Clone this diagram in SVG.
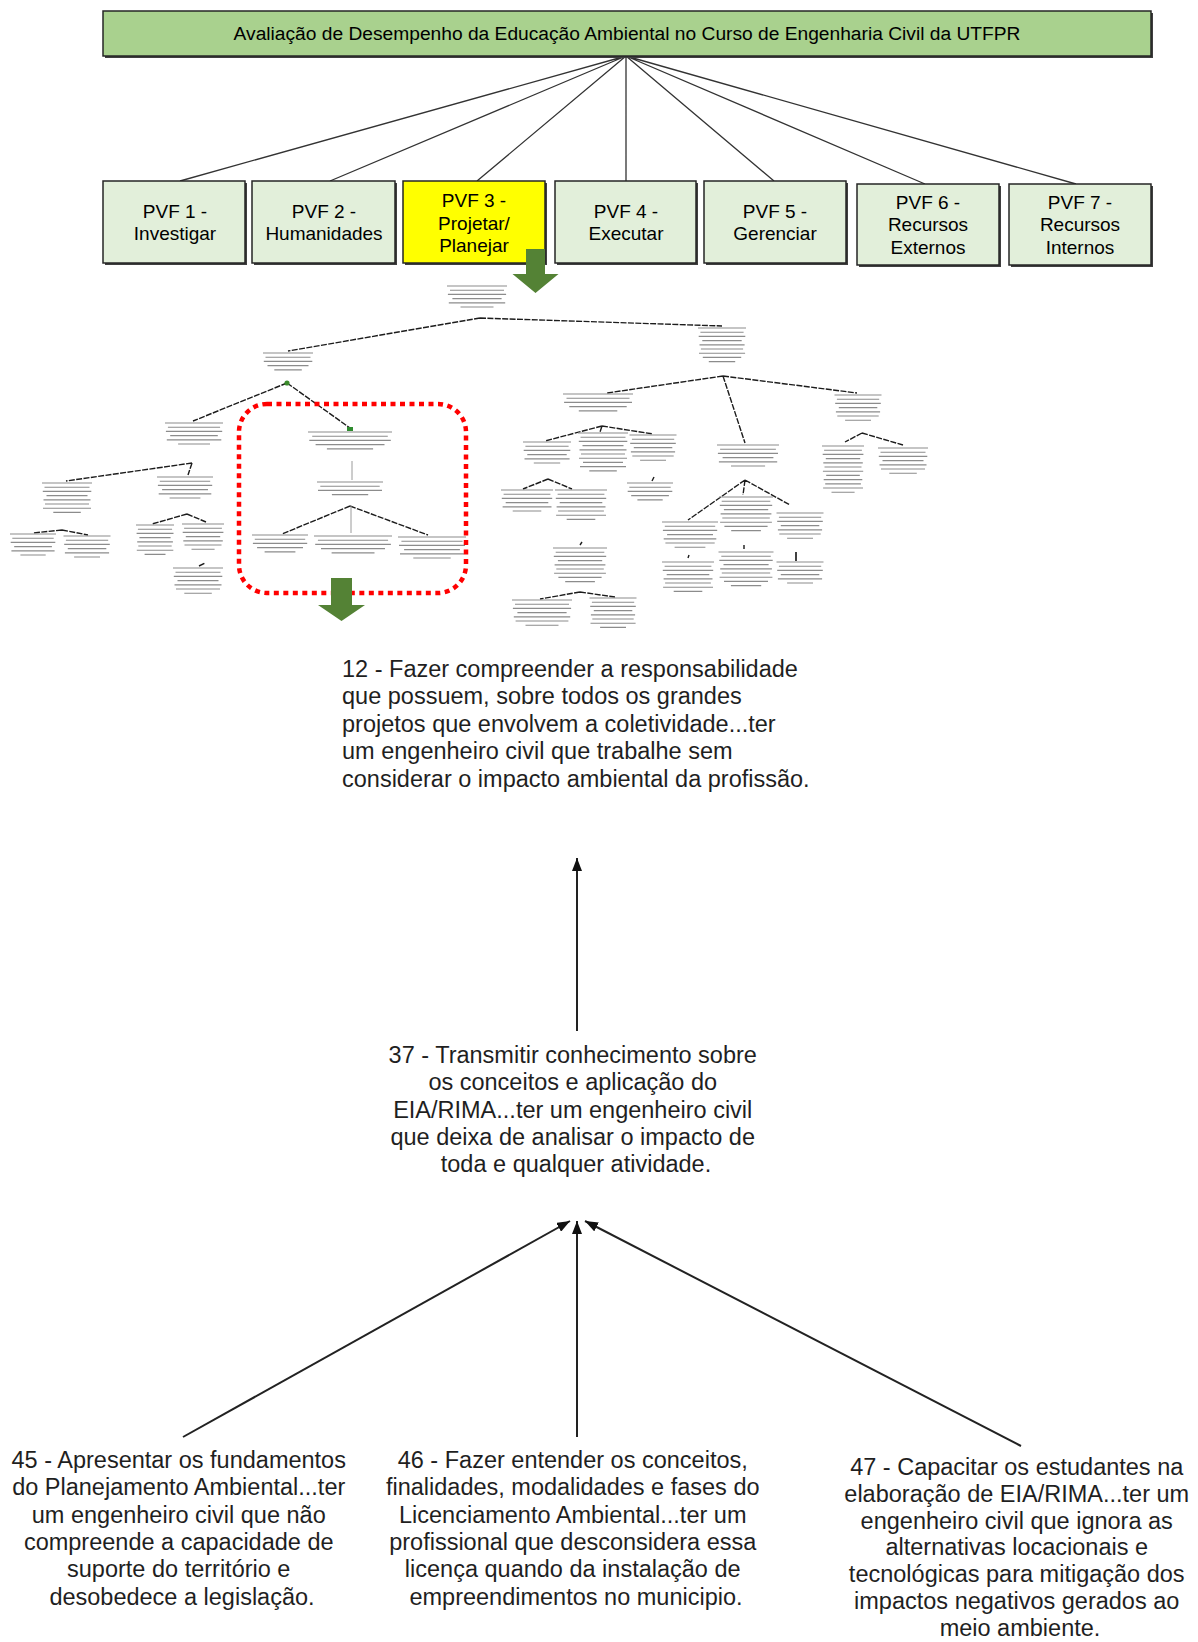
<svg xmlns="http://www.w3.org/2000/svg" width="1198" height="1642" viewBox="0 0 1198 1642">
  <defs>
    <style>
      .t{font-family:"Liberation Sans",Arial,sans-serif;fill:#000}
      .hd{font-size:19.2px;text-anchor:middle}
      .pvf{font-size:19px;text-anchor:middle}
      .big{font-size:23.5px;fill:#1f1f1f}
      .mid{text-anchor:middle}
      .sh{fill:#3f3f3f}
      .box{stroke:#262626;stroke-width:1.5}
      .fan{stroke:#333;stroke-width:1.3;fill:none}
      .tl{stroke:#1c1c1c;stroke-width:1.4;stroke-dasharray:6 1.4;fill:none}
      .tf{stroke:#9a9a9a;stroke-width:1;fill:none}
      .gk{stroke:#8c8c8c;stroke-width:1.15;fill:none}
      .con{stroke:#222;stroke-width:2;fill:none}
      .garrow{fill:#548235}
    </style>
    <marker id="ah" viewBox="0 0 13 10" refX="13" refY="5" markerWidth="13" markerHeight="10" markerUnits="userSpaceOnUse" orient="auto">
      <path d="M0 0L13 5L0 10z" fill="#111"/>
    </marker>
  </defs>
  <rect width="1198" height="1642" fill="#fff"/>

  <!-- connectors from the title to the seven PVF boxes -->
  <g id="connectors-top">
    <path class="fan" d="M626 56L180 181M626 56L330 181M626 56L477 181M626 56L626 181M626 56L774 181M626 56L925 184M626 56L1076 184"/>
  </g>

  <!-- title -->
  <g id="title">
    <rect class="sh" x="105" y="13" width="1048" height="45"/>
    <rect class="box" x="103" y="11" width="1048" height="45" fill="#a9d18e"/>
    <text class="t hd" x="627" y="40">Avaliação de Desempenho da Educação Ambiental no Curso de Engenharia Civil da UTFPR</text>
  </g>

  <!-- PVF boxes -->
  <g id="pvf1">
    <rect class="sh" x="105" y="183" width="142" height="82"/>
    <rect class="box" x="103" y="181" width="142" height="82" fill="#e2efda"/>
    <text class="t pvf" x="175" y="218">PVF 1 -</text>
    <text class="t pvf" x="175" y="240">Investigar</text>
  </g>
  <g id="pvf2">
    <rect class="sh" x="254" y="183" width="143" height="82"/>
    <rect class="box" x="252" y="181" width="143" height="82" fill="#e2efda"/>
    <text class="t pvf" x="324" y="218">PVF 2 -</text>
    <text class="t pvf" x="324" y="240">Humanidades</text>
  </g>
  <g id="pvf3">
    <rect class="sh" x="405" y="183" width="142" height="82"/>
    <rect class="box" x="403" y="181" width="142" height="82" fill="#ffff00"/>
    <text class="t pvf" x="474" y="207">PVF 3 -</text>
    <text class="t pvf" x="474" y="230">Projetar/</text>
    <text class="t pvf" x="474" y="252">Planejar</text>
  </g>
  <g id="pvf4">
    <rect class="sh" x="557" y="183" width="141" height="82"/>
    <rect class="box" x="555" y="181" width="141" height="82" fill="#e2efda"/>
    <text class="t pvf" x="626" y="218">PVF 4 -</text>
    <text class="t pvf" x="626" y="240">Executar</text>
  </g>
  <g id="pvf5">
    <rect class="sh" x="706" y="183" width="142" height="82"/>
    <rect class="box" x="704" y="181" width="142" height="82" fill="#e2efda"/>
    <text class="t pvf" x="775" y="218">PVF 5 -</text>
    <text class="t pvf" x="775" y="240">Gerenciar</text>
  </g>
  <g id="pvf6">
    <rect class="sh" x="859" y="186" width="142" height="81"/>
    <rect class="box" x="857" y="184" width="142" height="81" fill="#e2efda"/>
    <text class="t pvf" x="928" y="209">PVF 6 -</text>
    <text class="t pvf" x="928" y="231">Recursos</text>
    <text class="t pvf" x="928" y="254">Externos</text>
  </g>
  <g id="pvf7">
    <rect class="sh" x="1011" y="186" width="142" height="81"/>
    <rect class="box" x="1009" y="184" width="142" height="81" fill="#e2efda"/>
    <text class="t pvf" x="1080" y="209">PVF 7 -</text>
    <text class="t pvf" x="1080" y="231">Recursos</text>
    <text class="t pvf" x="1080" y="254">Internos</text>
  </g>

  <!-- green pointer below PVF 3 -->
  <g id="pointer-pvf3">
    <polygon class="garrow" points="526,249 545,249 545,274 558.5,274 535.5,293 512.5,274 526,274"/>
  </g>

  <!-- reduced-scale objectives tree -->
  <g id="mini-tree">
    <g id="mini-connectors">
      <path class="tl" d="M480 318L288 351M480 318L722 326"/>
      <path class="tl" d="M287 383L193 421M287 383L350 428"/>
      <path class="tf" d="M352 480V461"/>
      <path class="tl" d="M350 506L282 534M350 506L428 535"/>
      <path class="tf" d="M351 506V533"/>
      <path class="tl" d="M192 463L66 481M192 463L188 475"/>
      <path class="tl" d="M62 530L33 533M62 530L88 535"/>
      <path class="tl" d="M187 514L152 524M187 514L206 522"/>
      <path class="tl" d="M199 566L205 563"/>
      <path class="tl" d="M723 376L607 393M723 376L745 443M723 376L857 393"/>
      <path class="tl" d="M602 426L545 441M602 426L600 432M602 426L653 434"/>
      <path class="tl" d="M652 481L654 477"/>
      <path class="tl" d="M548 479L523 489M548 479L572 489"/>
      <path class="tl" d="M580 545L582 542"/>
      <path class="tl" d="M580 592L540 599M580 592L615 597"/>
      <path class="tl" d="M745 480L688 520M745 480L743 495M745 480L790 505"/>
      <path class="tl" d="M688 558L689 555M744 549V545"/>
      <path class="tl" d="M862 433L845 442M862 433L903 445"/>
      <path d="M796 561V552" stroke="#111" stroke-width="1.6"/>
      <circle cx="287" cy="383" r="2.6" fill="#3a8a2a"/>
      <rect x="347" y="427" width="6" height="4" fill="#2e8b2e"/>
    </g>
    <g id="mini-root"><path class="gk" d="M447 286h60M450 290.2h54M447.9 294.4h58.2M452.4 298.6h49.2M448.8 302.8h56.4M460.5 307h33"/></g>
    <g id="mini-l1"><path class="gk" d="M263 353h50M265.5 357.2h45M263.8 361.4h48.5M267.5 365.6h41M274.3 369.8h27.5"/></g>
    <g id="mini-l1a"><path class="gk" d="M165 423h58M167.9 427.2h52.2M165.9 431.4h56.3M170.2 435.6h47.6M166.8 439.8h54.5M178.1 444h31.9"/></g>
    <g id="mini-12"><path class="gk" d="M308 432h84M312.2 436.2h75.6M309.3 440.4h81.5M315.6 444.6h68.9M326.9 448.8h46.2"/></g>
    <g id="mini-37"><path class="gk" d="M317 482h66M320.3 486.2h59.4M318 490.4h64M331.9 494.6h36.3"/></g>
    <g id="mini-45"><path class="gk" d="M252 535h56M254.8 539.2h50.4M252.9 543.4h54.3M257.1 547.6h45.9M264.6 551.8h30.8"/></g>
    <g id="mini-46"><path class="gk" d="M314 536h78M317.9 540.2h70.2M315.2 544.4h75.7M321 548.6h64M331.6 552.8h42.9"/></g>
    <g id="mini-47"><path class="gk" d="M398 537h68M401.4 541.2h61.2M399 545.4h66M404.1 549.6h55.8M400 553.8h63.9M413.3 558h37.4"/></g>
    <g id="mini-l1aa"><path class="gk" d="M42 483h50M44.5 487.2h45M42.8 491.4h48.5M46.5 495.6h41M43.5 499.8h47M45 504h44M43 508.2h48M53.3 512.4h27.5"/></g>
    <g id="mini-l1ab"><path class="gk" d="M157 477h56M159.8 481.2h50.4M157.9 485.4h54.3M162.1 489.6h45.9M158.7 493.8h52.6M169.6 498h30.8"/></g>
    <g id="mini-l1aa1"><path class="gk" d="M10 534h46M12.3 538.2h41.4M10.7 542.4h44.6M14.2 546.6h37.7M11.4 550.8h43.2M20.4 555h25.3"/></g>
    <g id="mini-l1aa2"><path class="gk" d="M63.5 536h47M65.9 540.2h42.3M64.2 544.4h45.6M67.8 548.6h38.5M64.9 552.8h44.2M74.1 557h25.9"/></g>
    <g id="mini-l1ab1"><path class="gk" d="M136 525h38M137.9 529.2h34.2M136.6 533.4h36.9M139.4 537.6h31.2M137.2 541.8h35.7M138.3 546h33.4M136.8 550.2h36.5M144.6 554.4h20.9"/></g>
    <g id="mini-l1ab2"><path class="gk" d="M182 524h42M184.1 528.2h37.8M182.7 532.4h40.7M185.8 536.6h34.4M183.3 540.8h39.5M184.5 545h37M191.5 549.2h23.1"/></g>
    <g id="mini-3"><path class="gk" d="M173 568h50M175.5 572.2h45M173.8 576.4h48.5M177.5 580.6h41M174.5 584.8h47M176 589h44M184.3 593.2h27.5"/></g>
    <g id="mini-r1"><path class="gk" d="M698 328h48M700.4 332.2h43.2M698.7 336.4h46.6M702.3 340.6h39.4M699.5 344.8h45.1M700.9 349h42.2M699 353.2h46.1M702.8 357.4h38.4M708.8 361.6h26.4"/></g>
    <g id="mini-r1a"><path class="gk" d="M563 394h70M566.5 398.2h63M564.1 402.4h67.9M569.3 406.6h57.4M578.8 410.8h38.5"/></g>
    <g id="mini-r1aa"><path class="gk" d="M523 442h48M525.4 446.2h43.2M523.7 450.4h46.6M527.3 454.6h39.4M524.5 458.8h45.1M533.8 463h26.4"/></g>
    <g id="mini-r1ab"><path class="gk" d="M578 433h50M580.5 437.2h45M578.8 441.4h48.5M582.5 445.6h41M579.5 449.8h47M581 454h44M579 458.2h48M583 462.4h40M580 466.6h46M589.3 470.8h27.5"/></g>
    <g id="mini-r1ac"><path class="gk" d="M629.5 435h47M631.9 439.2h42.3M630.2 443.4h45.6M633.8 447.6h38.5M630.9 451.8h44.2M632.3 456h41.4M640.1 460.2h25.9"/></g>
    <g id="mini-2"><path class="gk" d="M627 483h46M629.3 487.2h41.4M627.7 491.4h44.6M631.2 495.6h37.7M637.4 499.8h25.3"/></g>
    <g id="mini-r1aa1"><path class="gk" d="M501 490h52M503.6 494.2h46.8M501.8 498.4h50.4M505.7 502.6h42.6M502.6 506.8h48.9M512.7 511h28.6"/></g>
    <g id="mini-r1aa2"><path class="gk" d="M555 490h52M557.6 494.2h46.8M555.8 498.4h50.4M559.7 502.6h42.6M556.6 506.8h48.9M558.1 511h45.8M556.1 515.2h49.9M566.7 519.4h28.6"/></g>
    <g id="mini-r1aa2a"><path class="gk" d="M553 548h54M555.7 552.2h48.6M553.8 556.4h52.4M557.9 560.6h44.3M554.6 564.8h50.8M556.3 569h47.5M554.1 573.2h51.8M558.4 577.4h43.2M565.2 581.6h29.7"/></g>
    <g id="mini-r1aa2a1"><path class="gk" d="M512 600h60M515 604.2h54M512.9 608.4h58.2M517.4 612.6h49.2M513.8 616.8h56.4M515.6 621h52.8M525.5 625.2h33"/></g>
    <g id="mini-r1aa2a2"><path class="gk" d="M589.5 598h47M591.9 602.2h42.3M590.2 606.4h45.6M593.8 610.6h38.5M590.9 614.8h44.2M592.3 619h41.4M590.5 623.2h45.1M600.1 627.4h25.9"/></g>
    <g id="mini-r1b"><path class="gk" d="M717 445h62M720.1 449.2h55.8M717.9 453.4h60.1M722.6 457.6h50.8M718.9 461.8h58.3M731 466h34.1"/></g>
    <g id="mini-r1ba"><path class="gk" d="M662 522h56M664.8 526.2h50.4M662.9 530.4h54.3M667.1 534.6h45.9M663.7 538.8h52.6M665.4 543h49.3M674.6 547.2h30.8"/></g>
    <g id="mini-r1bb"><path class="gk" d="M719 497h54M721.7 501.2h48.6M719.8 505.4h52.4M723.9 509.6h44.3M720.6 513.8h50.8M722.3 518h47.5M720.1 522.2h51.8M724.4 526.4h43.2M731.2 530.6h29.7"/></g>
    <g id="mini-r1bc"><path class="gk" d="M776.5 513h47M778.9 517.2h42.3M777.2 521.4h45.6M780.8 525.6h38.5M777.9 529.8h44.2M779.3 534h41.4M787.1 538.2h25.9"/></g>
    <g id="mini-r1ba1"><path class="gk" d="M662 562h52M664.6 566.2h46.8M662.8 570.4h50.4M666.7 574.6h42.6M663.6 578.8h48.9M665.1 583h45.8M663.1 587.2h49.9M673.7 591.4h28.6"/></g>
    <g id="mini-r1bb1"><path class="gk" d="M718.5 552h55M721.3 556.2h49.5M719.3 560.4h53.4M723.5 564.6h45.1M720.2 568.8h51.7M721.8 573h48.4M719.6 577.2h52.8M724 581.4h44M730.9 585.6h30.3"/></g>
    <g id="mini-r1bc1"><path class="gk" d="M776.5 562h47M778.9 566.2h42.3M777.2 570.4h45.6M780.8 574.6h38.5M777.9 578.8h44.2M787.1 583h25.9"/></g>
    <g id="mini-r1c"><path class="gk" d="M834.5 395h47M836.9 399.2h42.3M835.2 403.4h45.6M838.8 407.6h38.5M835.9 411.8h44.2M837.3 416h41.4M845.1 420.2h25.9"/></g>
    <g id="mini-r1ca"><path class="gk" d="M822 446h42M824.1 450.2h37.8M822.7 454.4h40.7M825.8 458.6h34.4M823.3 462.8h39.5M824.5 467h37M822.9 471.2h40.3M826.2 475.4h33.6M823.7 479.6h38.6M825.2 483.8h35.7M823.1 488h39.9M831.5 492.2h23.1"/></g>
    <g id="mini-r1cb"><path class="gk" d="M878 448h50M880.5 452.2h45M878.8 456.4h48.5M882.5 460.6h41M879.5 464.8h47M881 469h44M889.3 473.2h27.5"/></g>
  </g>

  <!-- highlighted branch and its pointer -->
  <g id="highlight">
    <rect x="239" y="404" width="227" height="189" rx="28" fill="none" stroke="#ff0000" stroke-width="4.5" stroke-dasharray="5 4.5"/>
    <polygon class="garrow" points="331,578 352,578 352,605 365,605 341.5,621 318,605 331,605"/>
  </g>

  <!-- enlarged branch connectors -->
  <g id="connectors">
    <path class="con" d="M577 1031V858" marker-end="url(#ah)"/>
    <path class="con" d="M183 1437L570 1221" marker-end="url(#ah)"/>
    <path class="con" d="M577 1437V1221" marker-end="url(#ah)"/>
    <path class="con" d="M1021 1446L585 1221" marker-end="url(#ah)"/>
  </g>

  <g id="node-12">
    <text class="t big" x="342" y="677">
      <tspan x="342" y="677">12 - Fazer compreender a responsabilidade</tspan>
      <tspan x="342" y="704.4">que possuem, sobre todos os grandes</tspan>
      <tspan x="342" y="731.8">projetos que envolvem a coletividade...ter</tspan>
      <tspan x="342" y="759.2">um engenheiro civil que trabalhe sem</tspan>
      <tspan x="342" y="786.6">considerar o impacto ambiental da profissão.</tspan>
    </text>
  </g>

  <g id="node-37">
    <text class="t big mid" x="576" y="1063">
      <tspan x="576" y="1063">37 - Transmitir conhecimento sobre</tspan>
      <tspan x="576" y="1090.3">os conceitos e aplicação do</tspan>
      <tspan x="576" y="1117.6">EIA/RIMA...ter um engenheiro civil</tspan>
      <tspan x="576" y="1144.9">que deixa de analisar o impacto de</tspan>
      <tspan x="576" y="1172.2">toda e qualquer atividade.</tspan>
    </text>
  </g>

  <g id="node-45">
    <text class="t big mid" x="182" y="1468">
      <tspan x="182" y="1468">45 - Apresentar os fundamentos</tspan>
      <tspan x="182" y="1495.3">do Planejamento Ambiental...ter</tspan>
      <tspan x="182" y="1522.6">um engenheiro civil que não</tspan>
      <tspan x="182" y="1549.9">compreende a capacidade de</tspan>
      <tspan x="182" y="1577.2">suporte do território e</tspan>
      <tspan x="182" y="1604.5">desobedece a legislação.</tspan>
    </text>
  </g>

  <g id="node-46">
    <text class="t big mid" x="576" y="1468">
      <tspan x="576" y="1468">46 - Fazer entender os conceitos,</tspan>
      <tspan x="576" y="1495.3">finalidades, modalidades e fases do</tspan>
      <tspan x="576" y="1522.6">Licenciamento Ambiental...ter um</tspan>
      <tspan x="576" y="1549.9">profissional que desconsidera essa</tspan>
      <tspan x="576" y="1577.2">licença quando da instalação de</tspan>
      <tspan x="576" y="1604.5">empreendimentos no municipio.</tspan>
    </text>
  </g>

  <g id="node-47">
    <text class="t big mid" x="1020" y="1475">
      <tspan x="1020" y="1475">47 - Capacitar os estudantes na</tspan>
      <tspan x="1020" y="1501.8">elaboração de EIA/RIMA...ter um</tspan>
      <tspan x="1020" y="1528.6">engenheiro civil que ignora as</tspan>
      <tspan x="1020" y="1555.4">alternativas locacionais e</tspan>
      <tspan x="1020" y="1582.2">tecnológicas para mitigação dos</tspan>
      <tspan x="1020" y="1609">impactos negativos gerados ao</tspan>
      <tspan x="1020" y="1635.8">meio ambiente.</tspan>
    </text>
  </g>
</svg>
